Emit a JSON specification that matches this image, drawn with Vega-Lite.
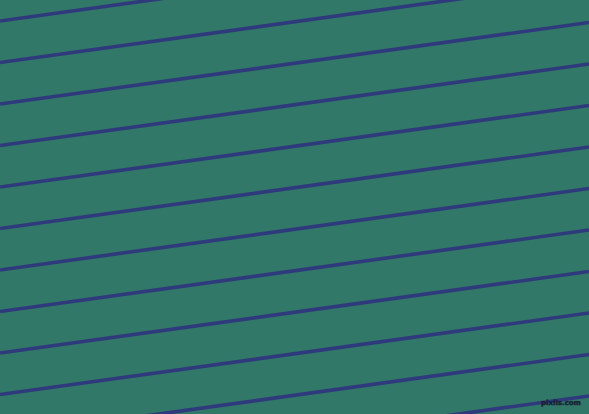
{
  "$schema": "https://vega.github.io/schema/vega-lite/v6.json",
  "width": 589,
  "height": 414,
  "autosize": {"type": "fit", "contains": "padding"},
  "padding": 0,
  "background": "#327868",
  "datasets": {
    "stripes": [
      {"line": 0, "x": 0, "y": 21}, {"line": 0, "x": 589, "y": -60.5},
      {"line": 1, "x": 0, "y": 62.5}, {"line": 1, "x": 589, "y": -19},
      {"line": 2, "x": 0, "y": 104}, {"line": 2, "x": 589, "y": 22.5},
      {"line": 3, "x": 0, "y": 145.5}, {"line": 3, "x": 589, "y": 64},
      {"line": 4, "x": 0, "y": 187}, {"line": 4, "x": 589, "y": 105.5},
      {"line": 5, "x": 0, "y": 228.5}, {"line": 5, "x": 589, "y": 147},
      {"line": 6, "x": 0, "y": 270}, {"line": 6, "x": 589, "y": 188.5},
      {"line": 7, "x": 0, "y": 311.5}, {"line": 7, "x": 589, "y": 230},
      {"line": 8, "x": 0, "y": 353}, {"line": 8, "x": 589, "y": 271.5},
      {"line": 9, "x": 0, "y": 394.5}, {"line": 9, "x": 589, "y": 313},
      {"line": 10, "x": 0, "y": 436}, {"line": 10, "x": 589, "y": 354.5},
      {"line": 11, "x": 0, "y": 477.5}, {"line": 11, "x": 589, "y": 396}
    ],
    "mark": [{"label": "pixlis.com", "x": 561, "y": 403}]
  },
  "layer": [
    {
      "data": {"name": "stripes"},
      "mark": {"type": "line", "clip": true, "strokeWidth": 3.6, "color": "#2f3a7c"},
      "encoding": {
        "x": {"field": "x", "type": "quantitative", "scale": {"domain": [0, 589], "nice": false, "zero": false}, "axis": null},
        "y": {"field": "y", "type": "quantitative", "scale": {"domain": [0, 414], "nice": false, "zero": false, "reverse": true}, "axis": null},
        "detail": {"field": "line", "type": "nominal"}
      }
    },
    {
      "data": {"name": "mark"},
      "mark": {"type": "text", "font": "DejaVu Sans", "fontWeight": "bold", "fontSize": 7, "baseline": "middle", "color": "#142033", "stroke": "#142033", "strokeWidth": 0.4},
      "encoding": {
        "x": {"field": "x", "type": "quantitative"},
        "y": {"field": "y", "type": "quantitative"},
        "text": {"field": "label"}
      }
    }
  ],
  "config": {"view": {"stroke": null}}
}
